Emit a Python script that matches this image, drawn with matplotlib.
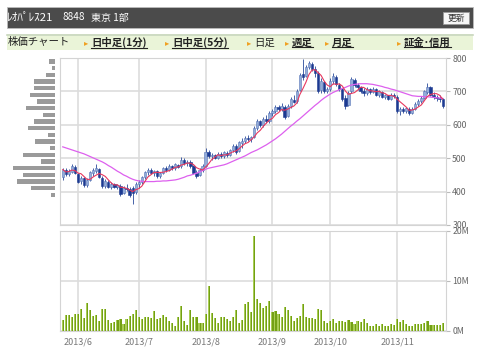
import numpy as np
import pandas as pd
import matplotlib
matplotlib.use('Agg')
import matplotlib.pyplot as plt
from matplotlib.patches import Rectangle
from matplotlib.lines import Line2D

plt.rcParams['font.family'] = ['Noto Sans CJK JP', 'DejaVu Sans']

# trading days (TSE holidays removed)
holidays = ['2013-07-15', '2013-09-16', '2013-09-23', '2013-10-14', '2013-11-04']
dates = pd.bdate_range('2013-05-27', '2013-11-25', freq='C', holidays=holidays)

opens = [445, 466, 452, 460, 474, 452, 432, 440, 420, 436, 456, 462, 468, 442, 418, 430, 415, 422, 414, 418,
         396, 412, 408, 412, 398, 422, 428, 444, 458, 464, 456, 462, 446, 456, 470, 466, 476, 470, 480, 476,
         494, 486, 490, 476, 456, 450, 466, 478, 518, 506, 510, 502, 514, 506, 516, 510, 524, 538, 522, 546,
         552, 560, 556, 564, 590, 610, 598, 616, 610, 634, 640, 652, 646, 654, 626, 656, 674, 670, 704, 752,
         746, 772, 782, 768, 756, 704, 728, 702, 708, 730, 744, 720, 706, 680, 660, 700, 734, 718, 712, 700,
         694, 706, 698, 706, 690, 698, 684, 688, 678, 690, 684, 642, 646, 640, 648, 636, 648, 662, 672, 680,
         698, 712, 690, 684, 680, 676]
highs = [472, 470, 468, 484, 480, 456, 448, 444, 440, 462, 470, 484, 470, 446, 438, 434, 428, 426, 424, 422,
         418, 422, 414, 416, 428, 434, 448, 462, 470, 472, 466, 464, 460, 474, 478, 482, 480, 486, 484, 504,
         500, 496, 494, 480, 464, 472, 484, 530, 526, 516, 514, 518, 520, 522, 522, 528, 544, 542, 552, 560,
         566, 570, 566, 596, 618, 614, 622, 630, 640, 646, 658, 660, 664, 658, 662, 684, 690, 708, 756, 796,
         780, 790, 788, 776, 760, 740, 732, 714, 740, 754, 748, 726, 710, 690, 700, 744, 740, 724, 716, 710,
         712, 710, 712, 710, 704, 702, 692, 690, 694, 696, 688, 652, 652, 654, 652, 652, 668, 678, 686, 704,
         724, 716, 698, 690, 688, 680]
lows = [436, 448, 446, 455, 452, 425, 424, 415, 414, 432, 448, 455, 440, 412, 410, 410, 408, 410, 408, 388,
        392, 402, 384, 364, 394, 412, 424, 438, 450, 452, 446, 440, 440, 452, 460, 462, 466, 466, 470, 472,
        480, 478, 472, 452, 440, 446, 460, 474, 500, 496, 498, 498, 500, 502, 504, 506, 518, 514, 520, 530,
        546, 550, 548, 560, 584, 592, 594, 606, 606, 626, 634, 640, 640, 618, 622, 650, 664, 666, 700, 734,
        744, 766, 760, 744, 696, 696, 694, 696, 700, 722, 716, 702, 672, 648, 656, 696, 712, 704, 694, 686,
        690, 692, 694, 686, 684, 680, 676, 674, 674, 680, 636, 628, 634, 636, 630, 632, 644, 656, 664, 676,
        692, 686, 676, 672, 668, 650]
closes = [466, 452, 462, 478, 456, 430, 442, 420, 434, 458, 465, 470, 444, 416, 432, 414, 422, 414, 420, 394,
          412, 408, 390, 396, 422, 428, 444, 458, 466, 456, 462, 446, 456, 470, 466, 476, 470, 482, 474, 496,
          486, 490, 478, 456, 448, 466, 476, 520, 506, 510, 502, 514, 506, 518, 510, 524, 538, 520, 548, 552,
          560, 556, 562, 590, 612, 598, 616, 610, 634, 640, 652, 646, 656, 624, 656, 676, 668, 702, 750, 744,
          772, 784, 768, 756, 702, 730, 700, 708, 730, 746, 722, 706, 676, 656, 696, 736, 718, 712, 700, 694,
          706, 698, 708, 690, 700, 684, 688, 678, 690, 686, 642, 648, 640, 650, 636, 648, 662, 672, 680, 700,
          712, 690, 684, 680, 676, 656]

# 25-day moving average (needs data before the window)
ma25 = [534, 531, 528, 525, 522, 519, 516, 513, 509, 505, 501, 497, 493, 489, 484, 478, 473, 467, 461, 456,
        450, 446, 441, 437, 434, 432, 431, 430, 430, 430, 430, 431, 431, 432, 432, 433, 434, 435, 437, 440,
        443, 447, 449, 452, 455, 459, 463, 467, 470, 472, 474, 476, 478, 480, 483, 487, 491, 495, 499, 503,
        507, 512, 517, 521, 525, 530, 535, 540, 546, 552, 558, 565, 572, 580, 588, 596, 603, 611, 618, 626,
        634, 642, 650, 658, 665, 673, 680, 686, 692, 697, 701, 705, 709, 712, 716, 719, 721, 722, 723, 723,
        723, 722, 721, 719, 717, 715, 712, 710, 707, 705, 702, 699, 696, 693, 690, 687, 686, 685, 685, 684,
        684, 683, 682, 681, 680, 679]

# volume in millions of shares
volume = [2.2, 3.3, 3.3, 2.9, 3.5, 3.5, 4.5, 2.7, 5.7, 4.2, 3.0, 3.3, 2.0, 4.5, 4.5, 2.2, 1.7, 1.9, 2.2, 2.5,
          1.4, 2.5, 3.1, 3.5, 4.3, 2.9, 2.5, 2.8, 2.8, 2.7, 4.0, 2.4, 2.7, 3.3, 2.8, 2.1, 1.7, 1.0, 2.8, 5.0,
          2.1, 1.2, 4.3, 2.9, 2.9, 1.7, 1.7, 3.5, 9.1, 3.6, 2.7, 1.7, 2.8, 2.8, 2.4, 2.0, 2.8, 4.3, 1.7,
          2.2, 5.5, 5.8, 3.8, 19.0, 6.5, 5.7, 4.6, 5.0, 6.1, 3.8, 4.0, 3.5, 2.9, 4.9, 4.2, 3.0, 2.1, 2.7, 3.1,
          5.4, 2.9, 2.7, 2.7, 2.4, 4.5, 4.2, 2.1, 1.6, 2.0, 2.4, 1.7, 2.0, 2.0, 1.9, 2.3, 1.8, 1.5, 2.0, 1.9,
          2.5, 1.7, 1.0, 1.0, 1.4, 1.1, 1.5, 1.1, 1.1, 1.5, 1.3, 2.5, 1.8, 2.3, 1.5, 1.0, 1.0, 1.5, 1.5, 1.4,
          1.7, 2.1, 1.2, 1.3, 1.2, 1.2, 1.6]

# volume by price (left histogram), relative
band_prices = [790, 770, 750, 730, 710, 690, 670, 650, 630, 610, 590, 570, 550, 530, 510, 490, 470, 450, 430, 410, 390]
band_volume = [6, 3, 9, 21, 21, 25, 18, 29, 12, 21, 27, 7, 20, 5, 32, 14, 42, 32, 38, 24, 4]

price_ticks = [300, 400, 500, 600, 700, 800]
vol_ticks = [0, 10, 20]

o = np.array(opens); h = np.array(highs); l = np.array(lows); c = np.array(closes)
x = np.arange(len(dates))
ma5 = pd.Series(closes).rolling(5, min_periods=1).mean()
month_idx = [i for i in range(1, len(dates)) if dates[i].month != dates[i - 1].month]
month_lbl = ['%d/%d' % (dates[i].year, dates[i].month) for i in month_idx]

W, H = 480, 357
fig = plt.figure(figsize=(4.8, 3.57), dpi=100)
fig.patch.set_facecolor('white')

def fb(x0, y0, x1, y1):
    return [x0 / W, 1 - y1 / H, (x1 - x0) / W, (y1 - y0) / H]

# header bars
fig.add_artist(Rectangle((7 / W, 1 - 28 / H), 466 / W, 21 / H, transform=fig.transFigure,
                         facecolor='#4b4b4b', edgecolor='#bbbbbb', lw=0.6))
for hx, part, fs in [(7, 'ﾚｵﾊﾟﾚｽ21', 8.2), (62, '8848', 7.2), (91, '東京 1部', 7.2)]:
    fig.text(hx / W, 1 - 17.5 / H, part, color='white', fontsize=fs, va='center')
fig.add_artist(Rectangle((443 / W, 1 - 24 / H), 26 / W, 12 / H, transform=fig.transFigure,
                         facecolor='#f6f6f6', edgecolor='#999999', lw=0.6))
fig.text(456 / W, 1 - 18 / H, '更新', color='#333333', fontsize=6.3, va='center', ha='center')

fig.add_artist(Rectangle((7 / W, 1 - 50 / H), 466 / W, 16 / H, transform=fig.transFigure,
                         facecolor='#eaf4d8', edgecolor='none'))
fig.add_artist(Line2D([7 / W, 473 / W], [1 - 34.5 / H, 1 - 34.5 / H], transform=fig.transFigure,
                      color='#c9d6bf', lw=1.2))
fig.text(8 / W, 1 - 42.5 / H, '株価チャート', color='#222222', fontsize=7.5, va='center')

links = [(84, '日中足(1分)', True), (165, '日中足(5分)', True), (247, '日足', False),
         (285, '週足', True), (325, '月足', True), (397, '証金･信用', True)]
link_texts = []
for lx, label, bold in links:
    fig.text(lx / W, 1 - 42.5 / H, '▸', color='#f0a020', fontsize=6, va='center', family='DejaVu Sans')
    t = fig.text((lx + 7) / W, 1 - 42.5 / H, label, color='#222222', fontsize=7.5, va='center',
                 fontweight='bold' if bold else 'normal')
    if bold:
        link_texts.append(t)

grid_c = '#dddddd'
spine_c = '#d4d4d4'

# price panel
ax = fig.add_axes(fb(60, 58, 446, 225))
up = c >= o
body_lo = np.minimum(o, c)
body_h = np.maximum(np.abs(c - o), 1)
ax.vlines(x, l, h, color='#2a4a9a', lw=0.6, zorder=3)
ax.bar(x[up], body_h[up], bottom=body_lo[up], width=0.75, color='#93acd9', edgecolor='#5a76b8',
       lw=0.4, zorder=4)
ax.bar(x[~up], body_h[~up], bottom=body_lo[~up], width=0.75, color='#1c3a92', edgecolor='#1c3a92',
       lw=0.4, zorder=4)
ax.plot(x, ma25, color='#dd60ee', lw=0.9, zorder=5)
ax.plot(x, ma5, color='#e8385e', lw=0.8, zorder=5)
ax.set_xlim(-0.9, 126.1)
ax.set_ylim(300, 800)
ax.set_yticks(price_ticks)
ax.set_xticks(month_idx)
ax.set_xticklabels([])
ax.yaxis.tick_right()
ax.tick_params(axis='y', colors='#bbbbbb', labelcolor='#666666', labelsize=6.3, length=3, pad=1.5)
ax.tick_params(axis='x', length=0)
ax.grid(True, color=grid_c, lw=1.2)
ax.set_axisbelow(True)
for s in ax.spines.values():
    s.set_color(spine_c)

# volume panel, two-tone bars
axv = fig.add_axes(fb(60, 231, 446, 331))
axv.bar(x, volume, width=0.7, color='#73a014', lw=0, zorder=3)
axv.bar(x - 0.175, volume, width=0.35, color='#a9cc55', lw=0, zorder=4)
axv.set_xlim(-0.9, 126.1)
axv.set_ylim(0, 20)
axv.set_yticks(vol_ticks)
axv.set_yticklabels(['%dM' % v for v in vol_ticks])
axv.set_xticks(month_idx)
axv.set_xticklabels(month_lbl)
axv.yaxis.tick_right()
axv.tick_params(axis='y', colors='#bbbbbb', labelcolor='#666666', labelsize=6.3, length=3, pad=1.5)
axv.tick_params(axis='x', length=0, labelcolor='#777777', labelsize=6.5, pad=5)
axv.grid(True, color=grid_c, lw=1.2)
axv.set_axisbelow(True)
for s in axv.spines.values():
    s.set_color(spine_c)

# volume-by-price histogram
axh = fig.add_axes(fb(0, 58, 55, 225))
axh.barh(band_prices, band_volume, height=13, color='#9a9a9a')
axh.set_xlim(55, 0)
axh.set_ylim(300, 800)
axh.axis('off')

# underline bold links
fig.canvas.draw()
inv = fig.transFigure.inverted()
for t in link_texts:
    bb = t.get_window_extent()
    (x0, y0), (x1, _) = inv.transform([(bb.x0, bb.y0 + 0.5), (bb.x1, bb.y0)])
    fig.add_artist(Line2D([x0, x1], [y0, y0], transform=fig.transFigure, color='#222222', lw=0.8))

fig.savefig('out.png', dpi=100)
